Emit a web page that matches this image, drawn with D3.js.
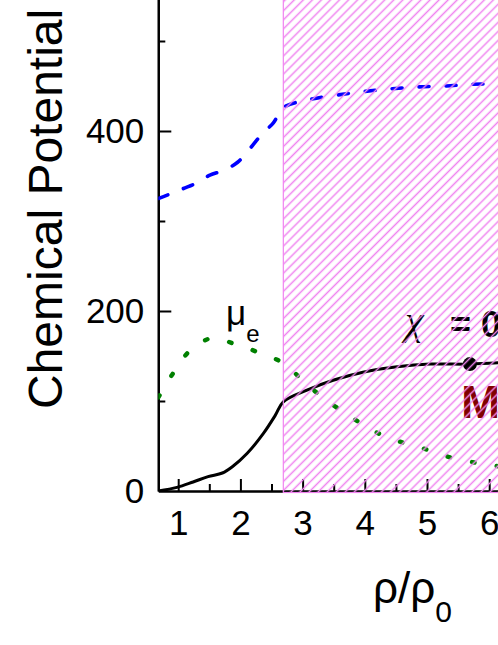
<!DOCTYPE html>
<html>
<head>
<meta charset="utf-8">
<script src="https://cdn.jsdelivr.net/npm/d3@7"></script>
<style>
  body { margin: 0; background: #fff; }
  svg { display: block; }
  text { font-family: Arial, "Liberation Sans", sans-serif; }
</style>
</head>
<body>
<div id="canvas"></div>
<script>
// data (rho/rho0 vs chemical potential)
const rhoBlue = [0.68, 0.87, 1.08, 1.29, 1.51, 1.72, 1.95, 2.16, 2.35, 2.53, 2.69, 3.12, 3.56, 4.0, 4.44, 4.87, 5.31, 5.74, 6.3];
const muBlue = [325, 330, 336, 342, 351, 356, 365, 381, 397, 409, 426, 435, 440, 444, 447, 449, 450, 452, 452];

const rhoGreen = [0.68, 0.91, 1.19, 1.55, 1.92, 2.29, 2.69, 3.09, 3.48, 3.85, 4.22, 4.6, 4.95, 5.34, 5.73, 6.1, 6.3];
const muGreen = [104, 130, 156, 170, 163, 154, 142, 117, 96, 79, 64, 54, 47, 38, 32, 28, 26];

const rhoBlack = [0.68, 0.98, 1.24, 1.48, 1.71, 1.87, 2.11, 2.37, 2.56, 2.69, 3.07, 3.49, 3.97, 4.52, 5.05, 5.69, 6.3];
const muBlack = [0, 4, 10, 16, 20, 27, 42, 64, 84, 99, 112, 123, 132, 138, 141, 141, 143];

const markerRho = [5.69];
const markerMu = [141];

const mixedStart = 2.69;

const xMajor = [1, 2, 3, 4, 5, 6];
const xMinor = [1.5, 2.5, 3.5, 4.5, 5.5, 6.5];
const yMajor = [0, 200, 400];
const yMinor = [100, 300, 500];

// Constants
const width = 498;
const height = 645;
const left = 158.3;
const bottom = 491;

const x = d3.scaleLinear().domain([0.68, 7]).range([left, left + 62.2 * 6.32]);
const y = d3.scaleLinear().domain([0, 550]).range([bottom, bottom - 0.9 * 550]);

const svg = d3.select('#canvas')
    .append('svg').attr('width', width).attr('height', height);

// hatch pattern
const hatchColor = '#f084f0';
const defs = svg.append('defs');
defs.append('pattern')
    .attr('id', 'hatch')
    .attr('patternUnits', 'userSpaceOnUse')
    .attr('width', 6.4)
    .attr('height', 6.4)
    .attr('patternTransform', 'rotate(45)')
    .append('line')
    .attr('x1', 3.2).attr('y1', -1)
    .attr('x2', 3.2).attr('y2', 8)
    .attr('stroke', hatchColor)
    .attr('stroke-width', 1.5);

defs.append('clipPath').attr('id', 'plot-clip')
    .append('rect')
    .attr('x', left).attr('y', -10)
    .attr('width', width).attr('height', bottom + 10);

// axes
const xAxis = d3.axisBottom(x).tickValues(xMajor).tickFormat(d3.format('d'))
    .tickSizeInner(-12).tickSizeOuter(0).tickPadding(19);
const xMinorAxis = d3.axisBottom(x).tickValues(xMinor).tickSizeInner(-7).tickSizeOuter(0).tickFormat('');
const yAxis = d3.axisLeft(y).tickValues(yMajor).tickFormat(d3.format('d'))
    .tickSizeInner(-13).tickSizeOuter(0).tickPadding(14);
const yMinorAxis = d3.axisLeft(y).tickValues(yMinor).tickSizeInner(-7).tickSizeOuter(0).tickFormat('');

svg.append('g')
    .attr('transform', `translate(0,${bottom})`)
    .call(xAxis);
svg.append('g')
    .attr('transform', `translate(0,${bottom})`)
    .call(xMinorAxis);
const gy = svg.append('g')
    .attr('transform', `translate(${left},0)`)
    .call(yAxis);
svg.append('g')
    .attr('transform', `translate(${left},0)`)
    .call(yMinorAxis);

svg.selectAll('.domain').attr('stroke', '#000').attr('stroke-width', 2.2);
svg.selectAll('.tick line').attr('stroke', '#000').attr('stroke-width', 2);
svg.selectAll('.tick text').attr('font-size', 35).attr('fill', '#000')
    .attr('font-family', 'Arial, "Liberation Sans", sans-serif');
// the 0 tick sits on the x axis
gy.selectAll('.tick').filter(d => d === 0).select('line').remove();

// curves
const plot = svg.append('g').attr('clip-path', 'url(#plot-clip)');
const line = d3.line()
    .x(d => x(d[0]))
    .y(d => y(d[1]))
    .curve(d3.curveCatmullRom.alpha(0.5));

plot.append('path')
    .datum(d3.zip(rhoBlue, muBlue))
    .attr('d', line)
    .attr('fill', 'none')
    .attr('stroke', '#0000ff')
    .attr('stroke-width', 3.6)
    .attr('stroke-linecap', 'round')
    .attr('stroke-dasharray', '10 17');

plot.append('path')
    .datum(d3.zip(rhoGreen, muGreen))
    .attr('d', line)
    .attr('fill', 'none')
    .attr('stroke', '#008000')
    .attr('stroke-width', 4.5)
    .attr('stroke-linecap', 'round')
    .attr('stroke-dasharray', '2.5 22.5');

plot.append('path')
    .datum(d3.zip(rhoBlack, muBlack))
    .attr('d', line)
    .attr('fill', 'none')
    .attr('stroke', '#000')
    .attr('stroke-width', 3);

plot.selectAll('.marker')
    .data(d3.zip(markerRho, markerMu))
    .join('circle')
    .attr('class', 'marker')
    .attr('cx', d => x(d[0]))
    .attr('cy', d => y(d[1]))
    .attr('r', 7)
    .attr('fill', '#000');

// labels
const mu = svg.append('text')
    .attr('x', 226)
    .attr('y', 325)
    .attr('font-size', 35)
    .attr('fill', '#000');
mu.append('tspan').text('\u03BC');
mu.append('tspan').attr('font-size', 24).attr('dy', 17).text('e');

const chi = svg.append('text')
    .attr('x', 405)
    .attr('y', 334)
    .attr('font-size', 36)
    .attr('fill', '#000');
chi.append('tspan')
    .attr('font-family', '"Liberation Serif", "Times New Roman", serif')
    .attr('font-style', 'italic')
    .attr('font-size', 42)
    .text('\u03C7');
chi.append('tspan')
    .attr('font-weight', 'bold')
    .attr('x', 450)
    .attr('y', 337)
    .text('= 0');

svg.append('text')
    .attr('x', 461)
    .attr('y', 418)
    .attr('font-size', 47)
    .attr('font-weight', 'bold')
    .attr('fill', '#800000')
    .text('M');

// hatched mixed region, drawn over everything like the original
svg.append('rect')
    .attr('x', x(mixedStart))
    .attr('y', -5)
    .attr('width', width - x(mixedStart) + 10)
    .attr('height', bottom + 1.5 + 5)
    .attr('fill', 'url(#hatch)')
    .attr('stroke', hatchColor)
    .attr('stroke-width', 1.2);

// axis titles
svg.append('text')
    .attr('transform', 'translate(62,409) rotate(-90)')
    .attr('font-size', 48)
    .attr('fill', '#000')
    .text('Chemical Potential');

const xt = svg.append('text')
    .attr('x', 373)
    .attr('y', 603)
    .attr('font-size', 44)
    .attr('fill', '#000');
xt.append('tspan').text('\u03C1/\u03C1');
xt.append('tspan').attr('font-size', 30).attr('dy', 19).text('0');
</script>
</body>
</html>
